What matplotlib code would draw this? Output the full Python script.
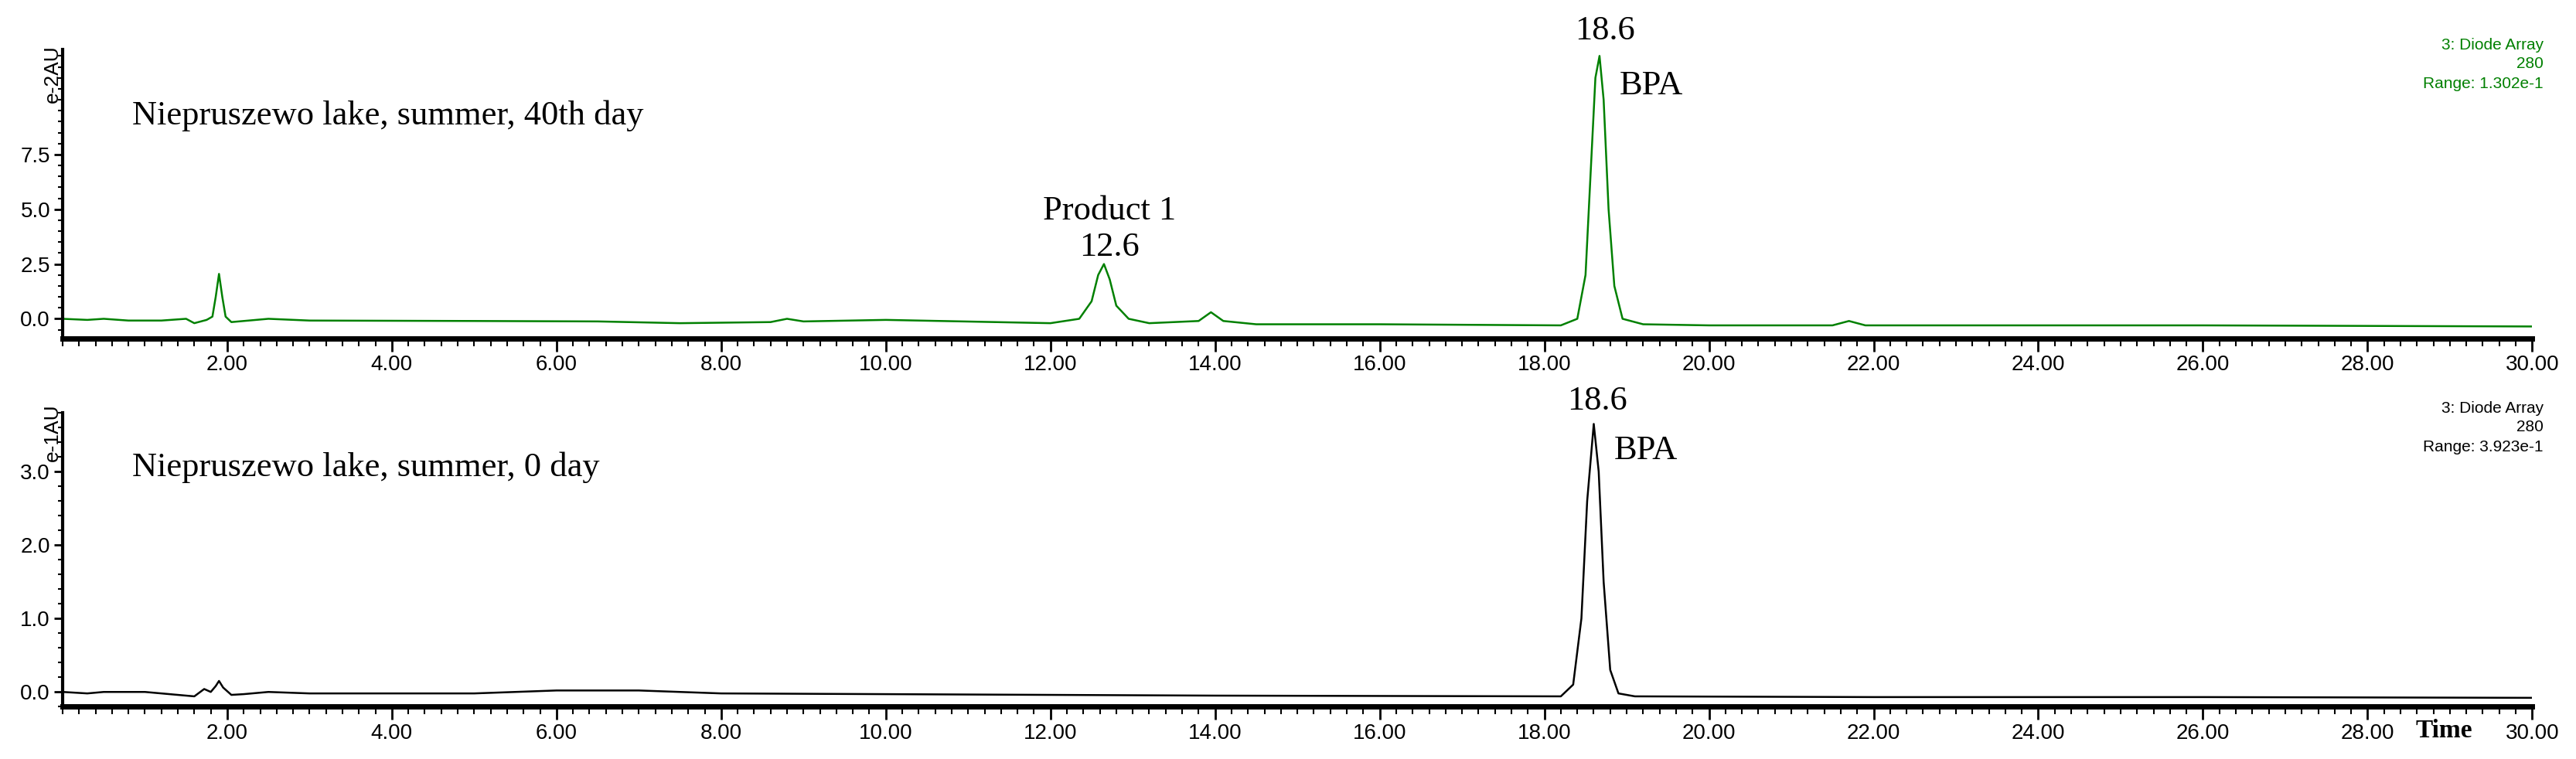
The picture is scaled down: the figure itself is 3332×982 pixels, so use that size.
import matplotlib
matplotlib.use("Agg")
import matplotlib.pyplot as plt
from matplotlib.ticker import MultipleLocator, FixedLocator

# Top trace (40th day), e-2 AU
t_top = [0.0, 0.3, 0.5, 0.8, 1.2, 1.5, 1.6, 1.75, 1.82, 1.86, 1.9, 1.94, 1.98, 2.05, 2.2, 2.5, 3.0, 5.0, 6.5, 7.5, 8.6, 8.8, 9.0, 10.0, 12.0, 12.35, 12.5, 12.58, 12.65, 12.72, 12.8, 12.95, 13.2, 13.8, 13.95, 14.1, 14.5, 16.0, 18.2, 18.4, 18.5, 18.56, 18.62, 18.67, 18.72, 18.78, 18.85, 18.95, 19.2, 20.0, 21.5, 21.7, 21.9, 23.0, 26.0, 30.0]
y_top = [0.0, -0.05, 0.0, -0.08, -0.08, 0.0, -0.2, -0.05, 0.1, 1.0, 2.05, 1.0, 0.1, -0.15, -0.1, 0.0, -0.08, -0.1, -0.12, -0.2, -0.15, 0.0, -0.12, -0.05, -0.2, 0.0, 0.8, 2.0, 2.5, 1.8, 0.6, 0.0, -0.2, -0.1, 0.3, -0.1, -0.25, -0.25, -0.3, 0.0, 2.0, 6.5, 11.0, 12.0, 10.0, 5.0, 1.5, 0.0, -0.25, -0.3, -0.3, -0.1, -0.3, -0.3, -0.3, -0.35]

# Bottom trace (0 day), e-1 AU
t_bot = [0.0, 0.3, 0.5, 1.0, 1.5, 1.6, 1.72, 1.8, 1.86, 1.9, 1.95, 2.05, 2.2, 2.5, 3.0, 5.0, 6.0, 7.0, 8.0, 10.0, 14.0, 18.2, 18.35, 18.45, 18.52, 18.6, 18.66, 18.72, 18.8, 18.9, 19.1, 22.0, 26.0, 30.0]
y_bot = [0.0, -0.02, 0.0, 0.0, -0.05, -0.06, 0.04, 0.0, 0.08, 0.15, 0.06, -0.04, -0.03, 0.0, -0.02, -0.02, 0.02, 0.02, -0.02, -0.03, -0.05, -0.06, 0.1, 1.0, 2.6, 3.65, 3.0, 1.5, 0.3, -0.02, -0.06, -0.07, -0.07, -0.08]

xticks = [2, 4, 6, 8, 10, 12, 14, 16, 18, 20, 22, 24, 26, 28, 30]
xlabels = ["%.2f" % v for v in xticks]

tickfont = ["Liberation Sans Narrow", "Liberation Sans", "DejaVu Sans"]
serif = ["Liberation Serif", "DejaVu Serif"]

fig = plt.figure(figsize=(33.32, 9.82), dpi=100)
ax1 = fig.add_axes([0.0243, 0.554, 0.9587, 0.381])
ax2 = fig.add_axes([0.0243, 0.069, 0.9587, 0.387])

def style(ax, ylim, ymaj, ymin, ylabels):
    ax.set_xlim(0, 30)
    ax.set_ylim(*ylim)
    for s in ("top", "right"):
        ax.spines[s].set_visible(False)
    ax.spines["bottom"].set_linewidth(5)
    ax.spines["left"].set_linewidth(3)
    ax.xaxis.set_major_locator(FixedLocator(xticks))
    ax.set_xticklabels(xlabels, fontsize=20, family=tickfont)
    ax.xaxis.set_minor_locator(MultipleLocator(0.2))
    ax.tick_params(axis="x", which="major", length=12, width=2, direction="out")
    ax.tick_params(axis="x", which="minor", length=7, width=1.5, direction="out")
    ax.yaxis.set_major_locator(FixedLocator(ymaj))
    ax.set_yticklabels(ylabels, fontsize=20, family=tickfont)
    ax.yaxis.set_minor_locator(MultipleLocator(ymin))
    ax.tick_params(axis="y", which="major", length=8, width=2)
    ax.tick_params(axis="y", which="minor", length=4, width=1.5)

ax1.plot(t_top, y_top, color="#008000", lw=1.8)
style(ax1, (-0.9, 12.3), [0, 2.5, 5, 7.5], 0.5, ["0.0", "2.5", "5.0", "7.5"])
ax2.plot(t_bot, y_bot, color="black", lw=1.8)
style(ax2, (-0.2, 3.8), [0, 1, 2, 3], 0.2, ["0.0", "1.0", "2.0", "3.0"])

fig.text(68/3332, 1-96/982, "e-2AU", rotation=90, ha="center", va="center", fontsize=19, family=tickfont)
fig.text(68/3332, 1-560/982, "e-1AU", rotation=90, ha="center", va="center", fontsize=19, family=tickfont)

fig.text(171/3332, 1-150/982, "Niepruszewo lake, summer, 40th day", fontsize=32, family=serif, va="center")
fig.text(171/3332, 1-605/982, "Niepruszewo lake, summer, 0 day", fontsize=32, family=serif, va="center")
fig.text(1435/3332, 1-273/982, "Product 1", fontsize=32, family=serif, ha="center", va="center")
fig.text(1435/3332, 1-320/982, "12.6", fontsize=32, family=serif, ha="center", va="center")
fig.text(2076/3332, 1-40/982, "18.6", fontsize=32, family=serif, ha="center", va="center")
fig.text(2066/3332, 1-519/982, "18.6", fontsize=32, family=serif, ha="center", va="center")
fig.text(2095/3332, 1-111/982, "BPA", fontsize=32, family=serif, ha="left", va="center")
fig.text(2088/3332, 1-583/982, "BPA", fontsize=32, family=serif, ha="left", va="center")

for i, s in enumerate(["3: Diode Array", "280", "Range: 1.302e-1"]):
    fig.text(3290/3332, 1-(58+25*i)/982, s, fontsize=15, family=tickfont, color="#008000", ha="right", va="center")
for i, s in enumerate(["3: Diode Array", "280", "Range: 3.923e-1"]):
    fig.text(3290/3332, 1-(528+25*i)/982, s, fontsize=15, family=tickfont, color="black", ha="right", va="center")

fig.text(3161/3332, 1-946/982, "Time", fontsize=24, family=serif, weight="bold", ha="center", va="center")

fig.savefig("out.png", dpi=100)
